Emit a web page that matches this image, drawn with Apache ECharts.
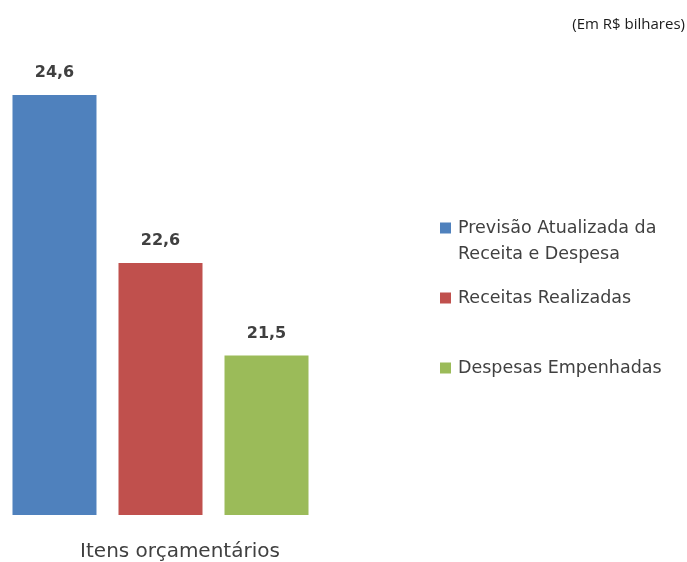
<!DOCTYPE html>
<html>
<head>
<meta charset="utf-8">
<style>
  html, body { margin: 0; padding: 0; background: #fff; }
  #chart { width: 687px; height: 562px; }
</style>
<script src="https://cdn.jsdelivr.net/npm/echarts@6/dist/echarts.min.js"></script>
</head>
<body>
<div id="chart"></div>
<script>
// Budget items (R$ billions)
const categories = ['Itens orçamentários'];
const seriesNames = [
  'Previsão Atualizada da Receita e Despesa',
  'Receitas Realizadas',
  'Despesas Empenhadas'
];
const legendLabels = [
  '\nPrevisão Atualizada da\nReceita e Despesa',
  'Receitas Realizadas',
  'Despesas Empenhadas'
];
const previsao = [24.6];
const receitas = [22.6];
const despesas = [21.5];
const seriesValues = [previsao, receitas, despesas];
const colors = ['#4F81BD', '#C0504D', '#9BBB59'];

const textColor = '#404040';
const legendTops = [184, 280, 350];

const chart = echarts.init(document.getElementById('chart'));

chart.setOption({
  animation: false,
  backgroundColor: '#ffffff',
  title: {
    text: '(Em R$ bilhares)',
    right: -3,
    top: 12,
    textStyle: { fontFamily: 'Open Sans', fontSize: 15, fontWeight: 'normal', color: '#1a1a1a' }
  },
  legend: seriesNames.map((name, i) => ({
    data: [name],
    orient: 'vertical',
    left: 435,
    top: legendTops[i],
    itemWidth: 11,
    itemHeight: 11,
    itemGap: 0,
    icon: 'rect',
    selectedMode: false,
    formatter: () => legendLabels[i],
    textStyle: {
      fontFamily: 'DejaVu Sans',
      fontSize: 17.5,
      lineHeight: 26,
      color: textColor,
      padding: [0, 0, 0, 2]
    }
  })),
  grid: { left: 0, right: 366, top: 95, bottom: 47 },
  xAxis: {
    type: 'category',
    data: categories,
    axisLine: { show: false },
    axisTick: { show: false },
    axisLabel: {
      margin: 27,
      fontFamily: 'DejaVu Sans',
      fontSize: 20,
      color: textColor,
      padding: [0, 0, 0, 39]
    }
  },
  yAxis: {
    type: 'value',
    min: 19.6,
    max: 24.6,
    show: false,
    splitLine: { show: false }
  },
  series: seriesValues.map((vals, i) => ({
    name: seriesNames[i],
    type: 'bar',
    data: vals,
    barWidth: 84,
    barGap: '26.2%',
    itemStyle: { color: colors[i] },
    label: {
      show: true,
      position: 'top',
      distance: 14,
      formatter: p => p.value.toFixed(1).replace('.', ','),
      fontFamily: 'DejaVu Sans',
      fontSize: 16,
      fontWeight: 'bold',
      color: textColor
    }
  }))
});
</script>
</body>
</html>
